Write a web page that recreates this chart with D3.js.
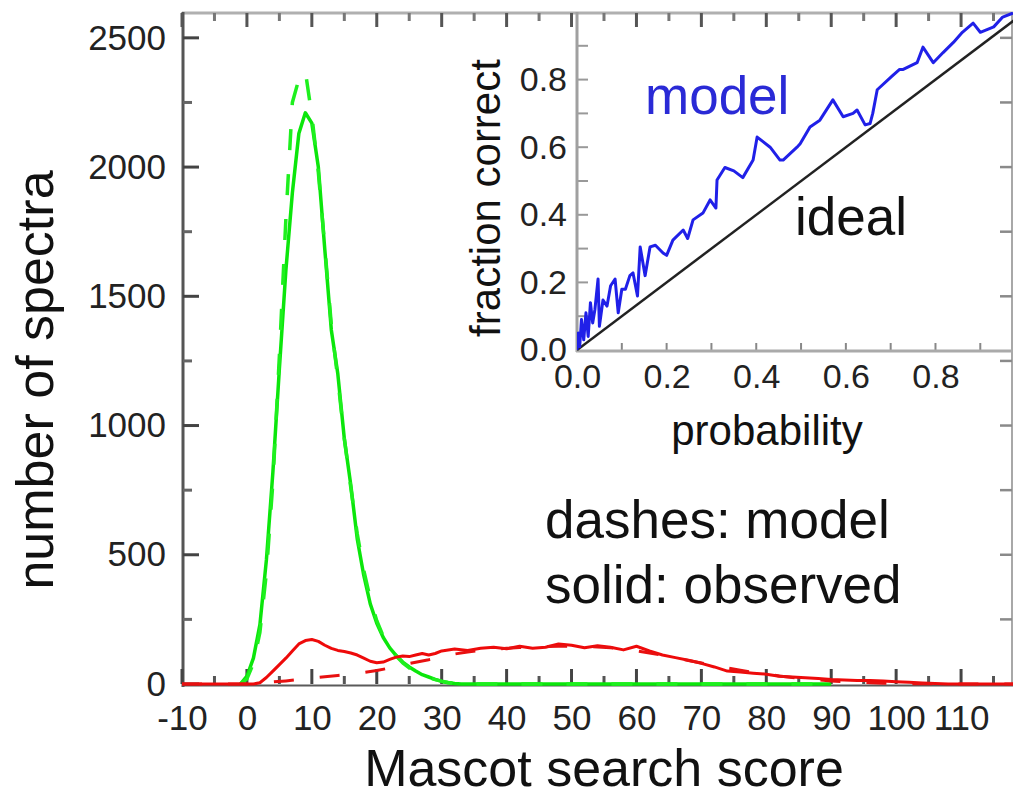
<!DOCTYPE html>
<html>
<head>
<meta charset="utf-8">
<script src="https://cdn.jsdelivr.net/npm/d3@7"></script>
<style>
  body { margin: 0; background: #fff; }
  text { font-family: "Liberation Sans", Arial, sans-serif; }
</style>
</head>
<body>
<svg id="chart" width="1015" height="797"></svg>
<script>
// ---- main panel: score distributions ----
// incorrect assignments (green)
const greenScores   = [-1, 0, 1, 2, 3, 4, 5, 6, 7, 8, 9, 10, 11, 12, 13, 14, 15, 16, 17, 18, 19, 20,
                       21, 22, 23, 24, 25, 26, 27, 28, 29, 30, 31, 32, 33, 34, 40, 50, 60, 70, 80, 90];
const greenObserved = [0, 30, 100, 230, 480, 820, 1220, 1600, 1900, 2130, 2210, 2170, 2000, 1680, 1370, 1200,
                       950, 770, 560, 420, 310, 235, 180, 140, 110, 85, 66, 50, 36, 27, 18, 10, 5, 2, 0, 0,
                       0, 0, 0, 0, 0, 0];
const greenModel    = [0, 20, 80, 200, 430, 780, 1270, 1800, 2250, 2340, 2370, 2200, 1980, 1690, 1390, 1180,
                       950, 760, 580, 440, 330, 245, 185, 140, 108, 82, 62, 46, 34, 25, 17, 11, 6, 3, 1, 0,
                       0, 0, 0, 0, 0, 0];

// correct assignments (red)
const redObsScores  = [-10, -5, 0, 1, 2, 3, 4, 5, 6, 7, 8, 9, 10, 11, 12, 13, 14, 15, 16, 17, 18, 19, 20,
                       21, 22, 23, 24, 25, 26, 27, 28, 29, 30, 32, 34, 36, 38, 40, 42, 44, 46, 48, 50, 52,
                       54, 56, 58, 60, 62, 64, 66, 68, 70, 72, 74, 76, 78, 80, 82, 84, 86, 88, 90, 92, 94,
                       96, 98, 100, 102, 104, 106, 108, 110, 115, 118];
const redObserved   = [0, 0, 0, 0, 5, 25, 50, 75, 100, 128, 155, 168, 172, 165, 150, 138, 130, 126, 120, 112,
                       100, 88, 82, 85, 95, 104, 108, 106, 112, 118, 112, 118, 128, 135, 130, 138, 142, 136,
                       146, 138, 142, 155, 150, 140, 148, 142, 132, 146, 128, 112, 102, 92, 80, 66, 50, 46,
                       42, 38, 30, 27, 24, 21, 17, 15, 14, 14, 12, 9, 7, 4, 2, 0, 0, 0, 0];
const redModelScores = [-10, -5, 0, 2, 4, 6, 8, 10, 12, 14, 16, 18, 20, 22, 24, 26, 28, 30, 32, 34, 36, 38,
                        40, 42, 44, 46, 48, 50, 52, 54, 56, 58, 60, 62, 64, 66, 68, 70, 72, 74, 76, 78, 80,
                        82, 84, 86, 88, 90, 92, 94, 96, 98, 100, 104, 108, 118];
const redModel      = [0, 0, 0, 3, 8, 12, 17, 23, 28, 33, 38, 45, 52, 62, 74, 84, 94, 106, 116, 124, 130,
                       135, 138, 141, 143, 145, 146, 146, 145, 143, 140, 135, 128, 120, 111, 101, 91, 81,
                       71, 62, 53, 45, 38, 31, 25, 20, 16, 12, 9, 7, 5, 3, 2, 1, 0, 0];

const scoreTicks   = [-10, 0, 10, 20, 30, 40, 50, 60, 70, 80, 90, 100, 110];
const spectraTicks = [0, 500, 1000, 1500, 2000, 2500];

// ---- inset: reliability of the probabilities ----
const probability   = [0, 0.003, 0.006, 0.01, 0.015, 0.02, 0.025, 0.03, 0.035, 0.04, 0.047, 0.05, 0.058,
                       0.067, 0.075, 0.085, 0.092, 0.1, 0.108, 0.118, 0.125, 0.135, 0.141, 0.152, 0.163,
                       0.175, 0.192, 0.2, 0.214, 0.237, 0.247, 0.259, 0.281, 0.297, 0.31, 0.3125, 0.33,
                       0.35, 0.37, 0.393, 0.402, 0.431, 0.453, 0.46, 0.491, 0.498, 0.52, 0.542, 0.571,
                       0.594, 0.616, 0.625, 0.643, 0.654, 0.66, 0.67, 0.703, 0.72, 0.728, 0.759, 0.772,
                       0.795, 0.817, 0.84, 0.86, 0.884, 0.9, 0.93, 0.95, 0.973];
const fractionCorrect = [0, 0.05, 0.01, 0.09, 0.03, 0.11, 0.04, 0.14, 0.08, 0.12, 0.21, 0.07, 0.148,
                       0.13, 0.19, 0.21, 0.11, 0.18, 0.18, 0.22, 0.228, 0.16, 0.305, 0.22, 0.305,
                       0.31, 0.287, 0.28, 0.325, 0.355, 0.33, 0.385, 0.405, 0.444, 0.42, 0.503, 0.54,
                       0.53, 0.51, 0.562, 0.63, 0.60, 0.562, 0.562, 0.60, 0.61, 0.66, 0.68, 0.74,
                       0.69, 0.70, 0.71, 0.666, 0.67, 0.70, 0.77, 0.81, 0.83, 0.83, 0.85, 0.896,
                       0.85, 0.88, 0.91, 0.94, 0.967, 0.94, 0.956, 0.985, 0.997];
const idealLine     = [0, 1];
const probTicks     = [0, 0.2, 0.4, 0.6, 0.8];

const svg = d3.select("#chart");

// scales
const x = d3.scaleLinear().domain([-10, 118]).range([182, 1013]);
const y = d3.scaleLinear().domain([0, 2600]).range([684, 12]);
const ix = d3.scaleLinear().domain([0, 0.973]).range([577, 1013]);
const iy = d3.scaleLinear().domain([0, 1]).range([350, 12]);

svg.append("defs").append("clipPath").attr("id", "mainClip")
  .append("rect").attr("x", 182).attr("y", 12).attr("width", 831).attr("height", 676);
svg.select("defs").append("clipPath").attr("id", "insetClip")
  .append("rect").attr("x", 577).attr("y", 12).attr("width", 436).attr("height", 339);

// frame
svg.append("line").attr("x1", 182).attr("x2", 1013).attr("y1", 13).attr("y2", 13)
  .attr("stroke", "#b0b0b0").attr("stroke-width", 3);
svg.append("line").attr("x1", 1012).attr("x2", 1012).attr("y1", 12).attr("y2", 686)
  .attr("stroke", "#a8a8a8").attr("stroke-width", 2);
svg.append("line").attr("x1", 183).attr("x2", 183).attr("y1", 12).attr("y2", 687)
  .attr("stroke", "#555").attr("stroke-width", 3);
svg.append("line").attr("x1", 182).attr("x2", 1013).attr("y1", 685.5).attr("y2", 685.5)
  .attr("stroke", "#5a5a5a").attr("stroke-width", 2);

// inward tick marks along an edge
function ticksX(values, scale, y0, len, color, w) {
  svg.append("g").selectAll("line").data(values).join("line")
    .attr("x1", d => scale(d)).attr("x2", d => scale(d))
    .attr("y1", y0).attr("y2", y0 + len)
    .attr("stroke", color).attr("stroke-width", w);
}
function ticksY(values, scale, x0, len, color, w) {
  svg.append("g").selectAll("line").data(values).join("line")
    .attr("y1", d => scale(d)).attr("y2", d => scale(d))
    .attr("x1", x0).attr("x2", x0 + len)
    .attr("stroke", color).attr("stroke-width", w);
}

const minorScore = d3.range(-5, 118, 10);
const minorSpectra = d3.range(250, 2600, 500);

// main panel ticks (all four sides, pointing inward)
ticksX(scoreTicks, x, 684, -15, "#444", 3);
ticksX(minorScore, x, 684, -8, "#555", 3);
ticksX(scoreTicks, x, 13, 14, "#555", 3);
ticksX(minorScore, x, 13, 8, "#777", 3);
ticksY(spectraTicks, y, 183, 16, "#444", 3);
ticksY(minorSpectra, y, 183, 9, "#666", 3);
ticksY(d3.range(250, 2600, 250), y, 1012, -12, "#8a8a8a", 2.5);

// main tick labels
const tickFont = 35;
const gx = svg.append("g").attr("transform", `translate(0,${y(0)})`)
  .call(d3.axisBottom(x).tickValues(scoreTicks).tickSize(0).tickPadding(21).tickFormat(d => String(d)));
gx.select(".domain").remove();
gx.selectAll("text").attr("font-size", tickFont).attr("fill", "#222");
const gy = svg.append("g").attr("transform", `translate(${x(-10)},0)`)
  .call(d3.axisLeft(y).tickValues(spectraTicks).tickSize(0).tickPadding(16).tickFormat(d => String(d)));
gy.select(".domain").remove();
gy.selectAll("text").attr("font-size", tickFont).attr("fill", "#222");

// distribution curves
const plot = svg.append("g").attr("clip-path", "url(#mainClip)");
function curve(xs, ys) {
  return d3.line().x((d, i) => x(xs[i])).y(d => y(d))(ys);
}
plot.append("path").attr("d", curve(greenScores, greenObserved))
  .attr("fill", "none").attr("stroke", "#0be60b").attr("stroke-width", 3.5).attr("stroke-linejoin", "round");
plot.append("path").attr("d", curve(greenScores, greenModel))
  .attr("fill", "none").attr("stroke", "#1ef01e").attr("stroke-width", 3.5)
  .attr("stroke-dasharray", "21,24").attr("stroke-linejoin", "round");
plot.append("path").attr("d", curve(redObsScores, redObserved))
  .attr("fill", "none").attr("stroke", "#ee0a0a").attr("stroke-width", 3).attr("stroke-linejoin", "round");
plot.append("path").attr("d", curve(redModelScores, redModel))
  .attr("fill", "none").attr("stroke", "#e81010").attr("stroke-width", 3)
  .attr("stroke-dasharray", "20,26").attr("stroke-linejoin", "round");

// main axis titles and notes
svg.append("text").attr("x", 604).attr("y", 786).attr("text-anchor", "middle")
  .attr("font-size", 52).attr("fill", "#111").text("Mascot search score");
svg.append("text").attr("transform", "translate(53,380) rotate(-90)").attr("text-anchor", "middle")
  .attr("font-size", 52).attr("fill", "#111").text("number of spectra");
svg.append("text").attr("x", 545).attr("y", 538).attr("font-size", 53).attr("fill", "#111")
  .text("dashes: model");
svg.append("text").attr("x", 545).attr("y", 603).attr("font-size", 53).attr("fill", "#111")
  .text("solid: observed");

// ---- inset ----
ticksX(d3.range(0, 0.97, 0.1), ix, 350, -7, "#888", 2);
ticksY(d3.range(0.1, 1, 0.1), iy, 577, 11, "#999", 2);

const igxl = svg.append("g").attr("transform", `translate(0,${iy(0)})`)
  .call(d3.axisBottom(ix).tickValues(probTicks).tickSize(0).tickPadding(14).tickFormat(d3.format(".1f")));
igxl.select(".domain").remove();
igxl.selectAll("text").attr("font-size", 34).attr("fill", "#222");
const igyl = svg.append("g").attr("transform", `translate(${ix(0)},0)`)
  .call(d3.axisLeft(iy).tickValues(probTicks).tickSize(0).tickPadding(10).tickFormat(d3.format(".1f")));
igyl.select(".domain").remove();
igyl.selectAll("text").attr("font-size", 34).attr("fill", "#222");

svg.append("line").attr("x1", ix(0)).attr("x2", ix(0)).attr("y1", 12).attr("y2", 352)
  .attr("stroke", "#a0a0a0").attr("stroke-width", 3);
svg.append("line").attr("x1", ix(0) - 1).attr("x2", 1013).attr("y1", 351).attr("y2", 351)
  .attr("stroke", "#aaa").attr("stroke-width", 3);

const insetPlot = svg.append("g").attr("clip-path", "url(#insetClip)");
insetPlot.append("path")
  .attr("d", d3.line().x(d => ix(d)).y(d => iy(d))(idealLine))
  .attr("fill", "none").attr("stroke", "#222").attr("stroke-width", 2.5);
insetPlot.append("path")
  .attr("d", d3.line().x((d, i) => ix(probability[i])).y(d => iy(d))(fractionCorrect))
  .attr("fill", "none").attr("stroke", "#2020e8").attr("stroke-width", 3).attr("stroke-linejoin", "round");

svg.append("text").attr("x", 767).attr("y", 445).attr("text-anchor", "middle")
  .attr("font-size", 42).attr("fill", "#111").text("probability");
svg.append("text").attr("transform", "translate(500,198) rotate(-90)").attr("text-anchor", "middle")
  .attr("font-size", 42).attr("fill", "#111").text("fraction correct");
svg.append("text").attr("x", 645).attr("y", 114).attr("font-size", 53).attr("fill", "#2a2ad6")
  .text("model");
svg.append("text").attr("x", 795).attr("y", 235).attr("font-size", 53).attr("fill", "#111")
  .text("ideal");
</script>
</body>
</html>
